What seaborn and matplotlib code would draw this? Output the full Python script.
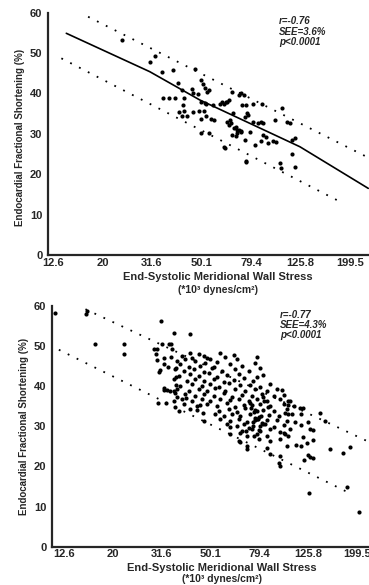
import matplotlib
matplotlib.use("Agg")
import matplotlib.pyplot as plt
import numpy as np
import pandas as pd
import seaborn as sns

# x values are log10 of end-systolic meridional wall stress
tick_logs = [1.1, 1.3, 1.5, 1.7, 1.9, 2.1, 2.3]
tick_labels = ["12.6", "20", "31.6", "50.1", "79.4", "125.8", "199.5"]
y_ticks = [0, 10, 20, 30, 40, 50, 60]

# top panel (n ~ 100)
top_log_stress = [
    1.381, 1.511, 1.494, 1.539, 1.586, 1.606, 1.673, 1.700, 1.707, 1.714,
    1.721, 1.731, 1.620, 1.660, 1.666, 1.687, 1.545, 1.569, 1.592, 1.629,
    1.700, 1.714, 1.720, 1.747, 1.774, 1.802, 1.810, 1.626, 1.610, 1.630,
    1.666, 1.690, 1.710, 1.620, 1.640, 1.700, 1.720, 1.740, 1.750, 1.815,
    1.820, 1.840, 1.850, 1.860, 1.840, 1.700, 1.730, 1.791, 1.795, 1.882,
    1.880, 1.876, 1.822, 1.850, 1.858, 1.870, 1.785, 1.790, 1.800, 1.862,
    1.880, 1.909, 1.943, 2.024, 1.828, 1.885, 1.890, 1.804, 1.810, 1.909,
    1.930, 1.940, 1.950, 1.997, 2.058, 1.830, 1.845, 1.860, 1.842, 1.896,
    1.822, 1.950, 1.960, 1.991, 2.000, 2.065, 1.876, 1.940, 1.916, 1.970,
    2.065, 2.078, 2.018, 2.020, 2.078, 2.044,
]
top_fs = [
    53.2, 49.3, 47.9, 45.2, 45.8, 42.7, 46.0, 43.3, 42.3, 41.3,
    40.4, 40.8, 40.8, 41.0, 40.0, 39.9, 38.8, 38.8, 38.8, 38.8,
    37.9, 37.7, 37.4, 37.1, 37.5, 37.9, 38.3, 37.1, 35.5, 35.6,
    35.5, 35.6, 35.7, 34.4, 34.3, 33.8, 34.4, 33.6, 33.5, 33.4,
    32.6, 31.8, 31.0, 30.4, 29.5, 30.3, 30.2, 26.8, 26.5, 23.1,
    23.4, 34.2, 40.4, 39.6, 40.0, 39.6, 37.9, 37.5, 37.9, 37.1,
    37.1, 37.5, 37.5, 36.3, 35.1, 35.1, 34.7, 33.0, 32.2, 33.0,
    32.8, 33.0, 32.6, 33.4, 32.6, 31.4, 31.0, 30.6, 30.2, 30.5,
    29.8, 29.7, 29.1, 28.3, 28.1, 28.6, 28.5, 28.2, 27.2, 27.7,
    25.0, 21.9, 22.7, 21.5, 29.0, 33.0,
]
top_fit_log = [1.154, 1.491, 1.693, 2.098, 2.374]
top_fit_fs = [54.9, 45.4, 38.4, 26.8, 16.5]
top_upper_log = [1.242, 2.368]
top_upper_fs = [59.0, 24.3]
top_lower_log = [1.134, 2.260]
top_lower_fs = [48.7, 13.2]

# bottom panel (n ~ 300)
bot_log_stress = [
    1.066, 1.192, 1.195, 1.227, 1.348, 1.348, 1.498, 1.550, 1.471, 1.480,
    1.479, 1.502, 1.530, 1.540, 1.545, 1.482, 1.510, 1.540, 1.510, 1.525,
    1.560, 1.493, 1.490, 1.560, 1.509, 1.510, 1.550, 1.555, 1.560, 1.485,
    1.520, 1.557, 1.618, 1.523, 1.536, 1.564, 1.600, 1.646, 1.670, 1.660,
    # dense cloud
    1.584, 1.618, 1.625, 1.652, 1.673, 1.700, 1.741, 1.762, 1.796, 1.891,
    1.564, 1.598, 1.639, 1.687, 1.728, 1.810,
    1.577, 1.611, 1.659, 1.680, 1.714, 1.782, 1.830, 1.884,
    1.557, 1.591, 1.632, 1.673, 1.708, 1.749, 1.803, 1.858, 1.905,
    1.570, 1.618, 1.652, 1.693, 1.728, 1.769, 1.816, 1.891, 1.918,
    1.550, 1.605, 1.639, 1.673, 1.714, 1.755, 1.796, 1.837, 1.877,
    1.577, 1.625, 1.666, 1.700, 1.734, 1.775, 1.823, 1.864, 1.905, 1.946,
    1.564, 1.611, 1.652, 1.687, 1.721, 1.762, 1.803, 1.844, 1.884, 1.932, 1.973,
    1.598, 1.639, 1.673, 1.714, 1.755, 1.789, 1.830, 1.871, 1.912, 1.959, 2.000,
    1.550, 1.584, 1.625, 1.666, 1.700, 1.741, 1.782, 1.816, 1.857, 1.891, 1.932, 1.987, 2.027,
    1.591, 1.646, 1.687, 1.728, 1.769, 1.803, 1.837, 1.871, 1.905, 1.946, 2.000, 2.041,
    1.570, 1.618, 1.734, 1.775, 1.809, 1.844, 1.884, 1.918, 1.959, 2.014,
    1.721, 1.755, 1.789, 1.823, 1.864, 1.898, 1.939, 1.980, 2.034,
    1.673, 1.741, 1.782, 1.816, 1.850, 1.891, 1.932, 1.973, 2.014,
    1.769, 1.809, 1.837, 1.877, 1.918, 1.959, 2.000,
    1.830, 1.871, 1.905, 1.946, 1.987, 2.027,
    1.782, 1.850, 1.891, 1.932, 2.007,
    1.816, 1.898, 1.946, 1.987,
    1.850, 1.932, 2.014,
    1.946, 1.987, 1.980,
    # extra points in the core of the cloud
    1.782, 1.823, 1.820, 1.850, 1.880, 1.987,
    1.862, 1.878, 1.895, 1.912, 1.868, 1.885, 1.902, 1.921, 1.873, 1.890,
    1.908, 1.858, 1.926, 1.935, 1.845, 1.917, 1.882, 1.899,
    # right-hand tail
    1.993, 2.020, 2.020, 2.006, 2.020, 2.068, 2.080, 2.070, 2.048, 2.070,
    2.102, 2.150, 2.170, 2.109, 2.120, 2.000, 2.020, 2.080, 2.095, 2.120,
    2.050, 2.070, 2.102, 2.110, 2.120, 2.082, 2.191, 2.245, 2.273, 2.259,
    2.106, 2.311,
]
bot_fs = [
    58.2, 58.0, 58.8, 50.5, 50.5, 48.0, 56.3, 53.2, 49.2, 49.2,
    48.1, 50.5, 50.5, 50.5, 49.2, 46.6, 47.0, 47.3, 45.6, 44.7,
    44.5, 44.1, 43.6, 42.4, 39.5, 39.1, 38.7, 38.3, 40.2, 35.8,
    35.9, 34.8, 53.0, 39.1, 38.7, 37.4, 37.0, 34.1, 33.3, 35.4,
    47.5, 48.2, 47.1, 48.0, 47.6, 46.9, 48.3, 47.2, 47.9, 47.4,
    46.2, 46.9, 46.4, 47.0, 46.1, 46.7,
    45.6, 44.9, 45.1, 45.7, 44.8, 45.5, 45.0, 45.8,
    44.4, 43.8, 44.3, 43.6, 44.6, 43.9, 44.2, 43.7, 44.5,
    42.5, 43.1, 42.6, 43.2, 42.4, 42.9, 43.0, 42.3, 42.7,
    41.9, 41.2, 41.7, 41.3, 41.8, 41.1, 41.5, 42.0, 41.4,
    40.0, 40.6, 40.1, 40.5, 39.9, 40.7, 40.2, 40.4, 39.8, 40.6,
    39.4, 38.8, 39.3, 38.9, 39.5, 38.7, 39.2, 38.9, 39.4, 38.8, 39.3,
    38.1, 37.5, 38.0, 37.6, 38.2, 37.4, 37.9, 37.6, 38.1, 37.5, 37.9,
    36.3, 36.9, 36.4, 36.8, 36.2, 36.9, 36.5, 36.8, 36.3, 36.7, 36.4, 36.9, 36.2,
    35.6, 35.0, 35.5, 35.1, 35.7, 34.9, 35.4, 35.2, 35.6, 35.0, 35.5, 35.1,
    33.8, 34.4, 33.9, 34.3, 33.7, 34.5, 34.0, 34.2, 33.8, 34.4,
    33.1, 32.5, 33.0, 32.6, 33.2, 32.4, 32.9, 32.7, 33.1,
    31.3, 31.9, 31.4, 31.8, 31.2, 31.9, 31.5, 31.7, 31.3,
    30.6, 30.0, 30.5, 30.1, 30.7, 29.9, 30.4,
    28.8, 29.4, 28.9, 29.3, 28.7, 29.4,
    28.1, 27.5, 28.0, 27.6, 28.2,
    26.3, 26.9, 26.4, 26.8,
    25.2, 24.6, 25.1,
    23.2, 22.6, 20.8,
    29.9, 28.3, 26.2, 24.3, 27.5, 20.0,
    35.8, 33.6, 31.9, 30.8, 34.6, 32.2, 30.1, 36.4, 31.0, 33.9,
    32.7, 29.6, 30.5, 34.9, 28.9, 37.2, 31.6, 29.2,
    39.1, 36.2, 35.4, 33.3, 33.1, 34.5, 34.5, 33.1, 31.2, 30.4,
    31.2, 33.3, 31.4, 29.3, 29.2, 28.3, 27.7, 27.3, 25.8, 26.6,
    25.4, 25.0, 22.9, 22.3, 22.1, 21.6, 24.3, 23.4, 24.9, 14.8,
    13.5, 8.7,
]
bot_upper_log = [1.189, 2.347]
bot_upper_fs = [59.2, 26.2]
bot_lower_log = [1.080, 2.259]
bot_lower_fs = [49.1, 13.7]

sns.set_style("white")
plt.rcParams["font.family"] = ["Liberation Sans", "DejaVu Sans"]
plt.rcParams["font.weight"] = "bold"

fig = plt.figure(figsize=(3.69, 5.85), dpi=100)
W, H = 369, 585


def px_axes(left, top, right, bottom):
    return fig.add_axes([left / W, 1 - bottom / H, (right - left) / W, (bottom - top) / H])


ax1 = px_axes(48, 12.7, 369, 255)
ax2 = px_axes(52, 306, 369, 546.7)

dotted = (0, (1, 4.5))

panels = [
    (ax1, top_log_stress, top_fs, (1.080, 2.377), top_upper_log, top_upper_fs,
     top_lower_log, top_lower_fs, "r=-0.76\nSEE=3.6%\np<0.0001"),
    (ax2, bot_log_stress, bot_fs, (1.052, 2.350), bot_upper_log, bot_upper_fs,
     bot_lower_log, bot_lower_fs, "r=-0.77\nSEE=4.3%\np<0.0001"),
]

for ax, xs, ys, xlim, ul, uf, ll, lf, stats in panels:
    sns.scatterplot(x=xs, y=ys, ax=ax, color="black", s=9, linewidth=0)
    sns.lineplot(x=ul, y=uf, ax=ax, color="black", lw=1.3, linestyle=dotted)
    sns.lineplot(x=ll, y=lf, ax=ax, color="black", lw=1.3, linestyle=dotted)
    ax.set_xlim(*xlim)
    ax.set_ylim(0, 60)
    ax.set_xticks(tick_logs)
    ax.set_xticklabels(tick_labels)
    ax.set_yticks(y_ticks)
    ax.tick_params(direction="in", length=4, width=1.2, labelsize=8)
    ax.tick_params(axis="x", pad=2)
    ax.tick_params(axis="y", pad=4)
    for t in ax.get_xticklabels() + ax.get_yticklabels():
        t.set_fontweight("bold")
    sns.despine(ax=ax)
    ax.spines["left"].set_linewidth(1.6)
    ax.spines["bottom"].set_linewidth(1.6)
    ax.set_xlabel("")
    ax.set_ylabel("")
    ax.text(0.72, 0.985, stats, transform=ax.transAxes, ha="left", va="top",
            fontsize=7, fontweight="bold", style="italic", linespacing=1.05)

sns.lineplot(x=top_fit_log, y=top_fit_fs, ax=ax1, color="black", lw=1.2)

ylab = "Endocardial Fractional Shortening (%)"
fig.text(20 / W, 1 - 137 / H, ylab, rotation=90, ha="center", va="center",
         fontsize=7, fontweight="bold")
fig.text(24 / W, 1 - 426 / H, ylab, rotation=90, ha="center", va="center",
         fontsize=7, fontweight="bold")

xlab = "End-Systolic Meridional Wall Stress"
unit = "(*10\u00b3 dynes/cm\u00b2)"
fig.text(218 / W, 1 - 277 / H, xlab, ha="center", va="center", fontsize=8, fontweight="bold")
fig.text(218 / W, 1 - 290 / H, unit, ha="center", va="center", fontsize=7.5, fontweight="bold")
fig.text(222 / W, 1 - 568 / H, xlab, ha="center", va="center", fontsize=8, fontweight="bold")
fig.text(222 / W, 1 - 579 / H, unit, ha="center", va="center", fontsize=7.5, fontweight="bold")

fig.savefig("out.png", dpi=100)
